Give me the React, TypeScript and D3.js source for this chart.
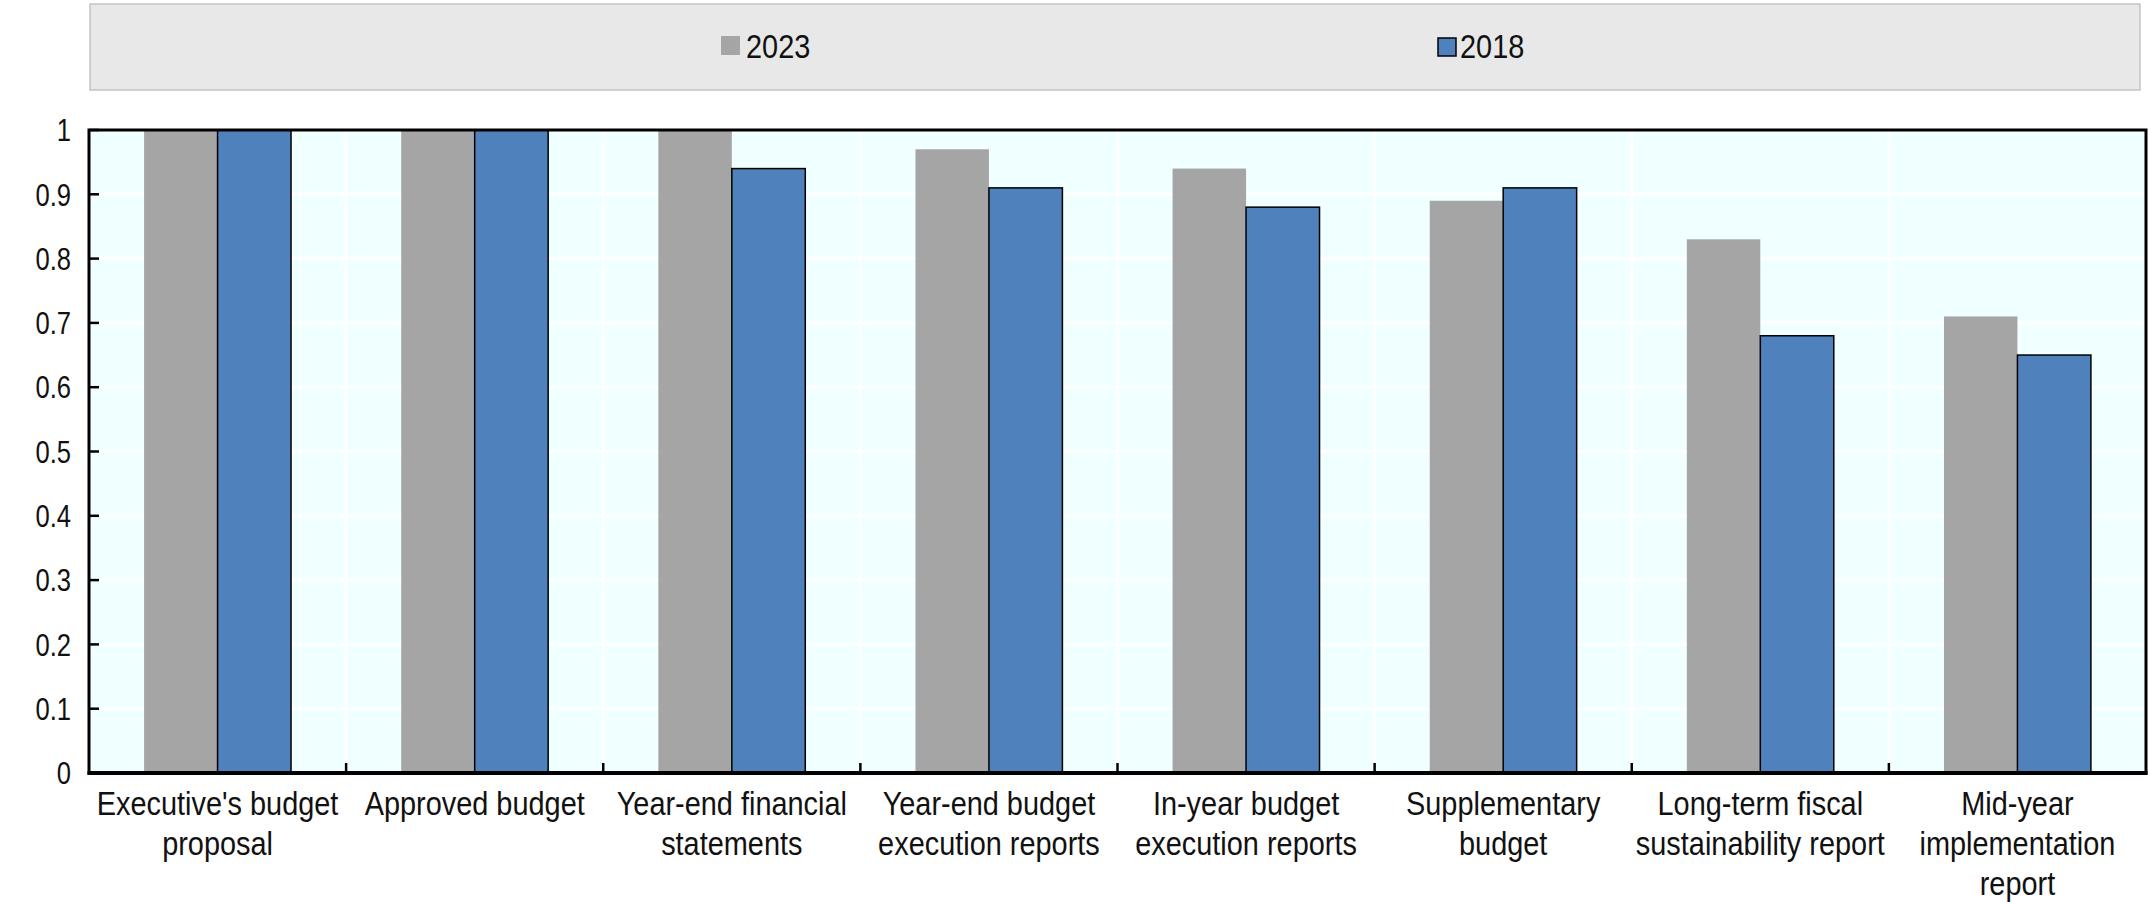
import React from "react";
import * as d3 from "d3";

const categories: string[][] = [
  ["Executive's budget", "proposal"],
  ["Approved budget"],
  ["Year-end financial", "statements"],
  ["Year-end budget", "execution reports"],
  ["In-year budget", "execution reports"],
  ["Supplementary", "budget"],
  ["Long-term fiscal", "sustainability report"],
  ["Mid-year", "implementation", "report"],
];
const seriesNames = ["2023", "2018"];
const values2023 = [1, 1, 1, 0.97, 0.94, 0.89, 0.83, 0.71];
const values2018 = [1, 1, 0.94, 0.91, 0.88, 0.91, 0.68, 0.65];
const yTicks = [0, 0.1, 0.2, 0.3, 0.4, 0.5, 0.6, 0.7, 0.8, 0.9, 1];

const W = 2148;
const H = 902;
const plot = { left: 89, right: 2146, top: 130, bottom: 773 };
const colors: Record<string, string> = { "2023": "#a5a5a5", "2018": "#4f81bd" };
const FONT = "'Liberation Sans', Arial, sans-serif";
const SX = 0.85; // horizontal condensing to mimic a narrow face

function NText(props: {
  x: number;
  y: number;
  size: number;
  anchor?: "start" | "middle" | "end";
  sx?: number;
  children: React.ReactNode;
}) {
  const { x, y, size, anchor = "start", sx = SX, children } = props;
  return (
    <g transform={`translate(${x},${y}) scale(${sx},1)`}>
      <text x={0} y={0} dy="0.35em" textAnchor={anchor} fontSize={size} fill="#111">
        {children}
      </text>
    </g>
  );
}

export default function App() {
  const keys = categories.map((c, i) => String(i));
  const x = d3.scaleBand<string>().domain(keys).range([plot.left, plot.right]).padding(0);
  const xs = d3
    .scaleBand<string>()
    .domain(seriesNames)
    .range([0, x.bandwidth()])
    .paddingInner(0)
    .paddingOuter(0.75);
  const y = d3.scaleLinear().domain([0, 1]).range([plot.bottom, plot.top]);
  const seriesValues: Record<string, number[]> = { "2023": values2023, "2018": values2018 };
  const boundaries = keys.slice(1).map((k) => x(k) as number);

  return (
    <svg
      width={W}
      height={H}
      style={{ position: "absolute", left: 0, top: 0, background: "#fff" }}
      fontFamily={FONT}
    >
      {/* legend */}
      <rect x={90} y={4} width={2050} height={86} fill="#e8e8e8" stroke="#c4c4c4" strokeWidth={1.5} />
      <rect x={721} y={36} width={19} height={19} fill={colors["2023"]} />
      <NText x={746} y={46} size={34}>2023</NText>
      <rect x={1438} y={38} width={18} height={18} fill={colors["2018"]} stroke="#000" strokeWidth={1.5} />
      <NText x={1460} y={46} size={34}>2018</NText>

      {/* plot background */}
      <rect x={plot.left} y={plot.top} width={plot.right - plot.left} height={plot.bottom - plot.top} fill="#f0ffff" />
      {/* gridlines */}
      {yTicks.slice(1, -1).map((t) => (
        <line key={"h" + t} x1={plot.left} x2={plot.right} y1={y(t)} y2={y(t)} stroke="#ffffff" strokeWidth={3} />
      ))}
      {boundaries.map((bx, i) => (
        <line key={"v" + i} x1={bx} x2={bx} y1={plot.top} y2={plot.bottom} stroke="#ffffff" strokeWidth={3} />
      ))}

      {/* bars */}
      {keys.map((k, i) => (
        <g key={k} transform={`translate(${x(k)},0)`}>
          {seriesNames.map((s) => {
            const v = seriesValues[s][i];
            return (
              <rect
                key={s}
                x={xs(s)}
                y={y(v)}
                width={xs.bandwidth()}
                height={y(0) - y(v)}
                fill={colors[s]}
                stroke={s === "2018" ? "#000" : "none"}
                strokeWidth={1.5}
              />
            );
          })}
        </g>
      ))}

      {/* frame */}
      <rect
        x={plot.left}
        y={plot.top}
        width={plot.right - plot.left}
        height={plot.bottom - plot.top}
        fill="none"
        stroke="#000"
        strokeWidth={3}
      />
      {/* y ticks */}
      {yTicks.map((t) => (
        <g key={"yt" + t}>
          <line x1={plot.left} x2={plot.left + 10} y1={y(t)} y2={y(t)} stroke="#000" strokeWidth={2.5} />
          <NText x={71} y={y(t)} size={32} anchor="end" sx={0.8}>
            {d3.format("")(t)}
          </NText>
        </g>
      ))}
      {/* x ticks */}
      {boundaries.map((bx, i) => (
        <line key={"xt" + i} x1={bx} x2={bx} y1={plot.bottom} y2={plot.bottom - 10} stroke="#000" strokeWidth={2.5} />
      ))}
      {/* bottom axis line thicker */}
      <line x1={plot.left - 1.5} x2={plot.right + 1.5} y1={plot.bottom} y2={plot.bottom} stroke="#000" strokeWidth={4} />

      {/* category labels */}
      {categories.map((lines, i) => (
        <g key={"c" + i}>
          {lines.map((ln, j) => (
            <NText
              key={j}
              x={(x(keys[i]) as number) + x.bandwidth() / 2}
              y={803 + j * 40}
              size={34}
              anchor="middle"
            >
              {ln}
            </NText>
          ))}
        </g>
      ))}
    </svg>
  );
}
